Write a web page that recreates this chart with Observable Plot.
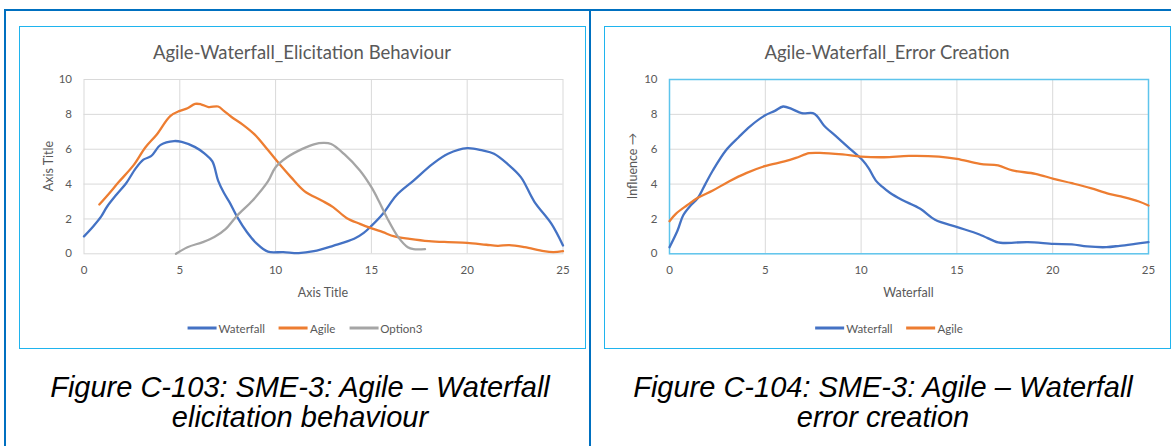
<!DOCTYPE html>
<html>
<head>
<meta charset="utf-8">
<script src="https://cdn.jsdelivr.net/npm/d3@7"></script>
<script src="https://cdn.jsdelivr.net/npm/@observablehq/plot@0.6"></script>
<style>
  body { margin: 0; background: #fff; }
  #root { position: relative; width: 1171px; height: 446px; overflow: hidden; font-family: Lato, "Open Sans", sans-serif; }
  .outer { position: absolute; left: 4px; top: 9px; width: 1180px; height: 460px; border: 2px solid #0070C0; box-sizing: border-box; }
  .divider { position: absolute; left: 589px; top: 9px; width: 2px; height: 440px; background: #0070C0; }
  .box { position: absolute; border: 1px solid #1FB4EE; box-sizing: border-box; }
  .chart { position: absolute; top: 0; }
  .title { position: absolute; color: #595959; font-size: 18.5px; white-space: nowrap; transform: translate(-50%, -50%); }
  .axt { position: absolute; color: #595959; font-size: 12.5px; white-space: nowrap; transform: translate(-50%, -50%); }
  .axy { position: absolute; color: #595959; font-size: 12.5px; white-space: nowrap; transform: translate(-50%, -50%) rotate(-90deg); }
  .legend { position: absolute; display: flex; align-items: center; transform: translate(-50%, -50%); color: #595959; font-size: 11.5px; white-space: nowrap; }
  .legend .item { display: flex; align-items: center; margin: 0 7px; }
  .legend .sw { display: inline-block; width: 29px; height: 2.5px; margin-right: 2px; }
  .cap { position: absolute; font-family: "Liberation Sans", Arial, sans-serif; font-style: italic; font-size: 29px; line-height: 30px; color: #000; text-align: center; white-space: nowrap; transform: translateX(-50%); }
</style>
</head>
<body>
<div id="root">
  <div class="outer"></div>
  <div class="divider"></div>
  <div class="box" style="left:19px; top:26px; width:567px; height:323px;"></div>
  <div class="box" style="left:604px; top:26px; width:567px; height:323px;"></div>
</div>
<script>
// ---- data ----
const xTicks = [0, 5, 10, 15, 20, 25];
const yTicks = [0, 2, 4, 6, 8, 10];

// Left chart: Agile-Waterfall_Elicitation Behaviour
const elicWaterfallX = [0, 0.5, 0.9, 1.2, 1.7, 2.2, 2.7, 3.1, 3.5, 4.0, 4.7, 5.1, 5.8, 6.3, 6.7, 7.0, 7.3, 7.6, 8.0, 8.5, 9.0, 9.6, 10.4, 11.2, 12.0, 13.0, 14.1, 14.6, 15.0, 15.6, 16.3, 17.2, 18.2, 19.0, 20.0, 20.8, 21.4, 22.1, 22.8, 23.5, 24.4, 25];
const elicWaterfallY = [1.0, 1.6, 2.15, 2.7, 3.4, 4.05, 4.9, 5.4, 5.6, 6.25, 6.47, 6.42, 6.12, 5.75, 5.3, 4.2, 3.5, 2.95, 2.1, 1.25, 0.6, 0.12, 0.1, 0.04, 0.15, 0.46, 0.86, 1.2, 1.6, 2.3, 3.35, 4.2, 5.16, 5.74, 6.06, 5.93, 5.74, 5.16, 4.4, 3.0, 1.72, 0.48];

const elicAgileX = [0.8, 1.3, 1.8, 2.6, 3.2, 3.8, 4.5, 5.0, 5.4, 5.8, 6.1, 6.5, 7.0, 7.3, 7.7, 8.3, 8.9, 9.6, 10.2, 10.8, 11.5, 12.4, 13.0, 13.7, 14.4, 15.1, 15.6, 16.2, 17.0, 18.0, 19.0, 20.0, 21.0, 21.6, 22.2, 23.0, 24.0, 24.5, 25];
const elicAgileY = [2.83, 3.45, 4.1, 5.1, 6.1, 6.85, 7.9, 8.2, 8.35, 8.6, 8.58, 8.42, 8.45, 8.2, 7.85, 7.4, 6.85, 5.95, 5.15, 4.4, 3.6, 3.06, 2.68, 2.06, 1.72, 1.43, 1.24, 1.0, 0.86, 0.73, 0.67, 0.63, 0.52, 0.46, 0.5, 0.38, 0.15, 0.1, 0.15];

const elicOption3X = [4.8, 5.4, 6.2, 6.8, 7.4, 8.0, 8.8, 9.6, 10.0, 10.6, 11.4, 12.0, 12.5, 12.9, 13.6, 14.4, 15.0, 15.4, 15.8, 16.4, 16.9, 17.2, 17.8];
const elicOption3Y = [0, 0.38, 0.67, 0.96, 1.43, 2.2, 3.06, 4.15, 4.97, 5.54, 6.02, 6.28, 6.36, 6.3, 5.7, 4.78, 3.82, 3.0, 2.1, 0.96, 0.38, 0.27, 0.27];

// Right chart: Agile-Waterfall_Error Creation
const errWaterfallX = [0, 0.42, 0.71, 1.1, 1.48, 1.87, 2.26, 2.94, 3.61, 4.19, 4.97, 5.5, 5.93, 6.4, 6.9, 7.48, 7.7, 8.06, 8.64, 9.42, 10.09, 10.4, 10.77, 11.1, 11.5, 12.12, 13.09, 13.86, 15.02, 16.18, 17.15, 17.5, 18.7, 20.05, 21.0, 21.8, 22.8, 23.5, 24.3, 25];
const errWaterfallY = [0.38, 1.34, 2.2, 2.77, 3.2, 4.0, 4.78, 5.93, 6.69, 7.3, 7.93, 8.2, 8.45, 8.3, 8.07, 8.07, 7.9, 7.36, 6.79, 6.02, 5.35, 4.9, 4.2, 3.85, 3.5, 3.1, 2.58, 1.95, 1.53, 1.11, 0.65, 0.62, 0.67, 0.57, 0.54, 0.42, 0.38, 0.46, 0.57, 0.67];

const errAgileX = [0, 0.33, 0.9, 1.48, 2.26, 3.1, 4.0, 4.97, 6.0, 6.6, 7.29, 7.85, 9.03, 9.99, 11.2, 12.5, 14.06, 15.0, 16.2, 17.15, 17.9, 19.1, 20.05, 21.0, 21.98, 22.94, 23.7, 24.5, 25];
const errAgileY = [1.87, 2.29, 2.77, 3.21, 3.63, 4.15, 4.63, 5.03, 5.3, 5.5, 5.77, 5.79, 5.7, 5.58, 5.54, 5.62, 5.58, 5.45, 5.16, 5.07, 4.78, 4.59, 4.3, 4.05, 3.77, 3.44, 3.25, 3.0, 2.77];

const colors = { Waterfall: "#4472C4", Agile: "#ED7D31", Option3: "#A5A5A5" };

const pts = (xs, ys) => xs.map((x, i) => ({ x, y: ys[i] }));

function makeChart({ series, width, marginLeft, marginRight, frameColor, frameWidth }) {
  return Plot.plot({
    width, height: 350,
    marginTop: 79, marginBottom: 96.7, marginLeft, marginRight,
    x: { domain: [0, 25] },
    y: { domain: [0, 10] },
    style: { fontFamily: "Lato, 'Open Sans', sans-serif", fontSize: "11.5px", color: "#595959", background: "transparent", maxWidth: "none", overflow: "visible" },
    marks: [
      Plot.gridX(xTicks.slice(1, -1), { stroke: "#D9D9D9", strokeOpacity: 1, strokeWidth: 1 }),
      Plot.gridY(yTicks.slice(1, -1), { stroke: "#D9D9D9", strokeOpacity: 1, strokeWidth: 1 }),
      Plot.frame({ stroke: frameColor, strokeWidth: frameWidth }),
      Plot.axisX(xTicks, { tickSize: 0, tickPadding: 12, label: null }),
      Plot.axisY(yTicks, { tickSize: 0, tickPadding: 12, label: null }),
      ...series.map(s => Plot.line(s.data, { x: "x", y: "y", stroke: colors[s.name], strokeWidth: 2.3, curve: "catmull-rom" }))
    ]
  });
}

const root = document.getElementById("root");

const left = makeChart({
  series: [
    { name: "Waterfall", data: pts(elicWaterfallX, elicWaterfallY) },
    { name: "Agile", data: pts(elicAgileX, elicAgileY) },
    { name: "Option3", data: pts(elicOption3X, elicOption3Y) }
  ],
  width: 590, marginLeft: 83.5, marginRight: 27.5, frameColor: "#D9D9D9", frameWidth: 1
});
left.classList.add("chart");
left.style.left = "0px";
root.appendChild(left);

const right = makeChart({
  series: [
    { name: "Waterfall", data: pts(errWaterfallX, errWaterfallY) },
    { name: "Agile", data: pts(errAgileX, errAgileY) }
  ],
  width: 581, marginLeft: 79, marginRight: 23, frameColor: "#5EC4EC", frameWidth: 1.5
});
right.classList.add("chart");
right.style.left = "590px";
root.appendChild(right);

function addDiv(cls, text, x, y, extra) {
  const d = document.createElement("div");
  d.className = cls;
  d.textContent = text;
  d.style.left = x + "px";
  d.style.top = y + "px";
  if (extra) Object.assign(d.style, extra);
  root.appendChild(d);
  return d;
}

addDiv("title", "Agile-Waterfall_Elicitation Behaviour", 302, 52);
addDiv("title", "Agile-Waterfall_Error Creation", 887, 52);
addDiv("axt", "Axis Title", 323, 292);
addDiv("axt", "Waterfall", 908.5, 292);
addDiv("axy", "Axis Title", 48, 166);
addDiv("axy", "Influence \u2192", 632, 166);

function addLegend(names, cx, cy) {
  const lg = document.createElement("div");
  lg.className = "legend";
  lg.style.left = cx + "px";
  lg.style.top = cy + "px";
  names.forEach(n => {
    const it = document.createElement("div");
    it.className = "item";
    const sw = document.createElement("span");
    sw.className = "sw";
    sw.style.background = colors[n];
    const t = document.createElement("span");
    t.textContent = n;
    it.appendChild(sw);
    it.appendChild(t);
    lg.appendChild(it);
  });
  root.appendChild(lg);
}
addLegend(["Waterfall", "Agile", "Option3"], 305, 328);
addLegend(["Waterfall", "Agile"], 889, 328);

const cap1 = addDiv("cap", "", 300, 372);
cap1.innerHTML = "Figure C-103: SME-3: Agile \u2013 Waterfall<br>elicitation behaviour";
const cap2 = addDiv("cap", "", 883, 372);
cap2.innerHTML = "Figure C-104: SME-3: Agile \u2013 Waterfall<br>error creation";
</script>
</body>
</html>
